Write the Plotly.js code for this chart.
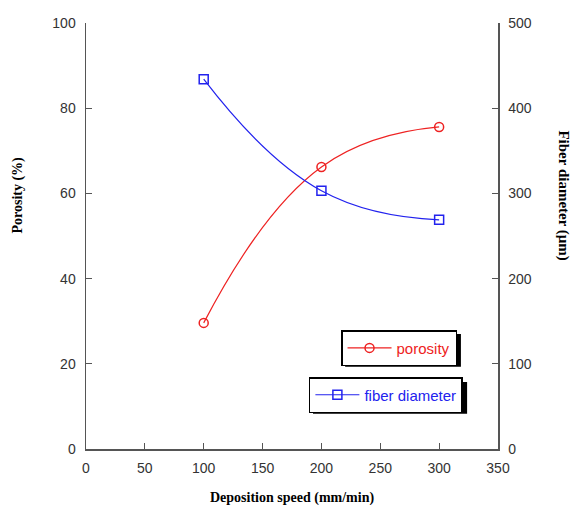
<!DOCTYPE html>
<html>
<head>
<meta charset="utf-8">
<script src="https://cdn.plot.ly/plotly-3.0.1.min.js"></script>
<style>html,body{margin:0;padding:0;background:#fff;}</style>
</head>
<body>
<div id="chart" style="width:578px;height:505px;"></div>
<script>
const speed = [100, 200, 300];
const porosity = [29.6, 66.2, 75.6];
const fiberDiameter = [434, 303, 269];
const xTicks = [0, 50, 100, 150, 200, 250, 300, 350];

const tickFont = {family: 'Liberation Sans, Arial, sans-serif', size: 14, color: '#333'};
const titleFont = {family: 'Liberation Serif, Times New Roman, serif', size: 14, color: '#000', weight: 'bold'};

const traces = [
  {
    x: speed, y: porosity, name: 'porosity', type: 'scatter', mode: 'lines+markers',
    line: {color: '#ee2222', width: 1.2, shape: 'spline', smoothing: 1.3},
    marker: {symbol: 'circle-open', size: 9, color: '#ee2222', line: {width: 1.5}},
    legend: 'legend'
  },
  {
    x: speed, y: fiberDiameter, name: 'fiber diameter', type: 'scatter', mode: 'lines+markers',
    yaxis: 'y2',
    line: {color: '#2222ee', width: 1.2, shape: 'spline', smoothing: 1.3},
    marker: {symbol: 'square-open', size: 9, color: '#2222ee', line: {width: 1.5}},
    legend: 'legend2'
  }
];

const axisCommon = {
  showgrid: false, zeroline: false, showline: true, linecolor: '#555', linewidth: 1.5,
  ticks: 'inside', ticklen: 6, tickwidth: 1.2, tickcolor: '#555', tickfont: tickFont, mirror: false
};

const legendCommon = {
  bgcolor: '#fff', bordercolor: '#000', borderwidth: 1.5, itemwidth: 44,
  font: {family: 'Liberation Sans, Arial, sans-serif', size: 15},
  xanchor: 'left', yanchor: 'top', xref: 'paper', yref: 'paper'
};

const layout = {
  width: 578, height: 505,
  margin: {l: 86, r: 80, t: 23, b: 56},
  paper_bgcolor: '#fff', plot_bgcolor: '#fff',
  showlegend: true,
  xaxis: Object.assign({}, axisCommon, {range: [0, 350], tickvals: xTicks, ticklabelstandoff: 6}),
  yaxis: Object.assign({}, axisCommon, {range: [0, 100], dtick: 20, ticklabelstandoff: 6}),
  yaxis2: Object.assign({}, axisCommon, {range: [0, 500], dtick: 100, overlaying: 'y', side: 'right', ticklabelstandoff: 6}),
  legend: Object.assign({}, legendCommon, {x: 0.619, y: 0.279, font: Object.assign({}, legendCommon.font, {color: '#ee2222'})}),
  legend2: Object.assign({}, legendCommon, {x: 0.541, y: 0.169, font: Object.assign({}, legendCommon.font, {color: '#2222ee'})}),
  shapes: [
    {type: 'rect', xref: 'paper', yref: 'paper', x0: 0.629, x1: 0.910, y0: 0.193, y1: 0.27, fillcolor: '#000', line: {width: 0}, layer: 'above'},
    {type: 'rect', xref: 'paper', yref: 'paper', x0: 0.551, x1: 0.925, y0: 0.083, y1: 0.157, fillcolor: '#000', line: {width: 0}, layer: 'above'}
  ],
  annotations: [
    {text: 'Deposition speed (mm/min)', xref: 'paper', yref: 'paper', x: 0.5, y: -0.115, yanchor: 'middle', showarrow: false, font: titleFont},
    {text: 'Porosity (%)', xref: 'paper', yref: 'paper', x: -0.165, y: 0.595, xanchor: 'center', showarrow: false, textangle: -90, font: titleFont},
    {text: 'Fiber diameter (μm)', xref: 'paper', yref: 'paper', x: 1.158, y: 0.595, xanchor: 'center', showarrow: false, textangle: 90, font: Object.assign({}, titleFont, {size: 15})}
  ]
};

Plotly.newPlot('chart', traces, layout, {displayModeBar: false, staticPlot: true});
</script>
</body>
</html>
